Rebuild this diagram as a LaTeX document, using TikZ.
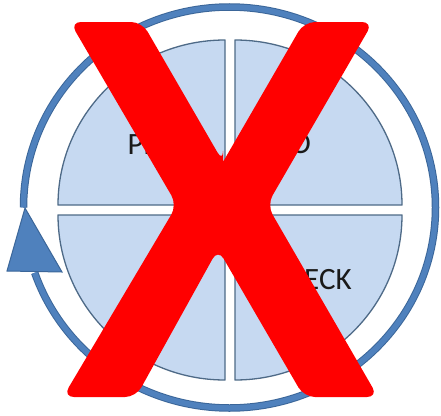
\documentclass[tikz,border=0pt]{standalone}
\usepackage{fontspec}
\setmainfont{Carlito}
\definecolor{ringblue}{HTML}{4F81BD}
\definecolor{ringedge}{HTML}{3B6699}
\definecolor{qfill}{HTML}{C6D9F1}
\definecolor{qedge}{HTML}{4E6A87}
\definecolor{xred}{HTML}{FF0000}
\definecolor{txt}{HTML}{1A1A1A}
\tikzset{
  quarter/.style={fill=qfill, draw=qedge, line width=1.3pt, line join=round},
  lbl/.style={font=\fontsize{31}{31}\selectfont, text=txt, inner sep=0pt, anchor=base},
  ringline/.style={line width=7.5pt},
}
\begin{document}
\begin{tikzpicture}[x=1pt,y=-1pt]
\useasboundingbox (0,0) rectangle (441,415);
\fill[white] (0,0) rectangle (441,415);
% ring
\coordinate (c) at (229.5,207.5);
\draw[ringedge, ringline] (c) ++(180:206 and 200.5) arc[start angle=180,end angle=521,x radius=206,y radius=200.5];
\draw[ringblue, line width=5.5pt] (c) ++(180:206 and 200.5) arc[start angle=180,end angle=521,x radius=206,y radius=200.5];
% arrow head
\filldraw[fill=ringblue, draw=ringedge, line width=1pt, line join=miter] (25,208) -- (62,272) -- (7,271) -- cycle;
% quarters
\filldraw[quarter] (225,205) -- (58,205) arc[start angle=180,end angle=270,x radius=167,y radius=165] -- cycle;
\filldraw[quarter] (235,205) -- (235,40) arc[start angle=270,end angle=360,x radius=167,y radius=165] -- cycle;
\filldraw[quarter] (235,215) -- (402,215) arc[start angle=0,end angle=90,x radius=167,y radius=165] -- cycle;
\filldraw[quarter] (225,215) -- (225,380) arc[start angle=90,end angle=180,x radius=167,y radius=165] -- cycle;
% labels
\node[lbl] (plan) at (161,154) {PLAN};
\node[lbl] (do) at (291,153) {DO};
\node[lbl] (act) at (158,289) {ACT};
\node[lbl] (check) at (310,289) {CHECK};
% red X
\coordinate (A) at (70,22);
\coordinate (B) at (142,22);
\coordinate (C) at (223,162);
\coordinate (D) at (304,22);
\coordinate (E) at (373,22);
\coordinate (F) at (267,205);
\coordinate (G) at (378,397);
\coordinate (H) at (304,397);
\coordinate (I) at (218,249);
\coordinate (J) at (136,397);
\coordinate (K) at (63,397);
\coordinate (L) at (177,205);
\fill[xred] (C) [rounded corners=11pt] -- (D) -- (E) -- (F) [sharp corners] [rounded corners=11pt] -- (G) -- (H) -- (I) [sharp corners] [rounded corners=11pt] -- (J) -- (K) -- (L) [sharp corners] [rounded corners=11pt] -- (A) -- (B) -- (C) [sharp corners] -- cycle;
\end{tikzpicture}
\end{document}
